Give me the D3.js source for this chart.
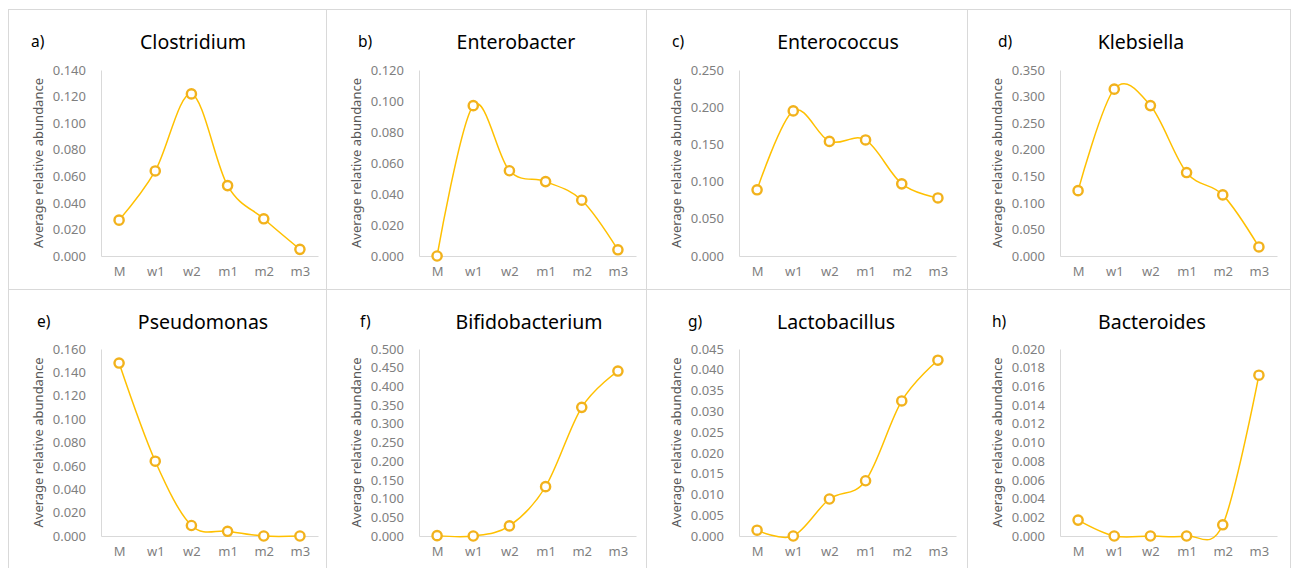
<!DOCTYPE html>
<html>
<head>
<meta charset="utf-8">
<script src="https://cdn.jsdelivr.net/npm/d3@7"></script>
<style>
  body { margin: 0; background: #fff; }
  svg { display: block; font-family: "Noto Sans", "Open Sans", sans-serif; }
</style>
</head>
<body>
<script>
// time points, same for every panel
var categories = ["M", "w1", "w2", "m1", "m2", "m3"];

var panelLetters = ["a)", "b)", "c)", "d)", "e)", "f)", "g)", "h)"];
var genera = ["Clostridium", "Enterobacter", "Enterococcus", "Klebsiella",
              "Pseudomonas", "Bifidobacterium", "Lactobacillus", "Bacteroides"];

// average relative abundance
var clostridium     = [0.027, 0.064, 0.122, 0.053, 0.028, 0.005];
var enterobacter    = [0.000, 0.097, 0.055, 0.048, 0.036, 0.004];
var enterococcus    = [0.089, 0.195, 0.154, 0.156, 0.097, 0.078];
var klebsiella      = [0.123, 0.314, 0.283, 0.157, 0.115, 0.017];
var pseudomonas     = [0.148, 0.064, 0.009, 0.004, 0.000, 0.000];
var bifidobacterium = [0.001, 0.000, 0.027, 0.132, 0.344, 0.441];
var lactobacillus   = [0.0014, 0.000, 0.0089, 0.0133, 0.0325, 0.0423];
var bacteroides     = [0.0017, 0.000, 0.000, 0.000, 0.0012, 0.0172];

var seriesValues = [clostridium, enterobacter, enterococcus, klebsiella,
                    pseudomonas, bifidobacterium, lactobacillus, bacteroides];

// y axis tick labels: max and step of each panel
var yMax  = [0.14, 0.12, 0.25, 0.35, 0.16, 0.5, 0.045, 0.02];
var yStep = [0.02, 0.02, 0.05, 0.05, 0.02, 0.05, 0.005, 0.002];

// layout
var W = 1295, H = 568;
var colLeft = [8, 326, 646, 967, 1290];
var rowTop = [9, 289, 575];
var titleDx = [92, 97, 99, 81, 102, 110, 97, 92];   // title centre from y axis
var letterDx = [23, 32, 26, 31, 29, 34, 42, 25];     // letter start from box left

var svg = d3.select("body").append("svg")
    .attr("width", W)
    .attr("height", H);

var line_color = "#FFC000";

genera.forEach(function(name, i) {
    var col = i % 4, row = Math.floor(i / 4);
    var bx = colLeft[col], by = rowTop[row];
    var bw = colLeft[col + 1] - bx, bh = rowTop[row + 1] - by;

    var g = svg.append("g");

    // panel frame
    g.append("rect")
        .attr("x", bx + 0.5).attr("y", by + 0.5)
        .attr("width", bw).attr("height", bh)
        .attr("fill", "none")
        .attr("stroke", "#d9d9d9")
        .attr("stroke-width", 1);

    var axX = bx + 93;
    var plotTop = by + 61 - (row * 1), plotBottom = by + 247;
    var plotW = 217;

    var x = d3.scalePoint().domain(categories).range([0, plotW]).padding(0.5);
    var y = d3.scaleLinear().domain([0, yMax[i]]).range([plotBottom - plotTop, 0]);

    var plot = g.append("g").attr("transform", "translate(" + axX + "," + plotTop + ")");

    var ticks = d3.range(0, yMax[i] + yStep[i] / 2, yStep[i]);

    var yAxis = plot.append("g")
        .call(d3.axisLeft(y).tickValues(ticks).tickFormat(d3.format(".3f"))
              .tickSize(0).tickPadding(15));
    var xAxis = plot.append("g")
        .attr("transform", "translate(0," + (plotBottom - plotTop) + ")")
        .call(d3.axisBottom(x).tickSize(0).tickPadding(11));

    [yAxis, xAxis].forEach(function(a) {
        a.select(".domain").attr("stroke", "#d9d9d9");
        a.selectAll("text")
            .attr("fill", "#7f7f7f")
            .style("font-size", "13px")
            .style("font-family", "'Noto Sans', sans-serif");
    });

    // smoothed line like the spreadsheet one
    var lineGen = d3.line()
        .x(function(d, j) { return x(categories[j]); })
        .y(function(d) { return y(d); })
        .curve(d3.curveCardinal.tension(0));

    plot.append("path")
        .datum(seriesValues[i])
        .attr("d", lineGen)
        .attr("fill", "none")
        .attr("stroke", line_color)
        .attr("stroke-width", 1.5);

    plot.selectAll("circle")
        .data(seriesValues[i])
        .enter()
        .append("circle")
        .attr("cx", function(d, j) { return x(categories[j]); })
        .attr("cy", function(d) { return y(d); })
        .attr("r", 4.6)
        .attr("fill", "#fff")
        .attr("stroke", "#F2B21C")
        .attr("stroke-width", 2.4);

    // y axis title
    g.append("text")
        .attr("transform", "translate(" + (axX - 58) + "," + ((plotTop + plotBottom) / 2) + ") rotate(-90)")
        .attr("text-anchor", "middle")
        .attr("fill", "#595959")
        .style("font-size", "13px")
        .text("Average relative abundance");

    // chart title
    g.append("text")
        .attr("x", axX + titleDx[i])
        .attr("y", by + 40)
        .attr("text-anchor", "middle")
        .attr("fill", "#000")
        .style("font-size", "19.5px")
        .text(name);

    // panel letter
    g.append("text")
        .attr("x", bx + letterDx[i])
        .attr("y", by + 38)
        .attr("fill", "#000")
        .style("font-size", "15.5px")
        .text(panelLetters[i]);
});
</script>
</body>
</html>
